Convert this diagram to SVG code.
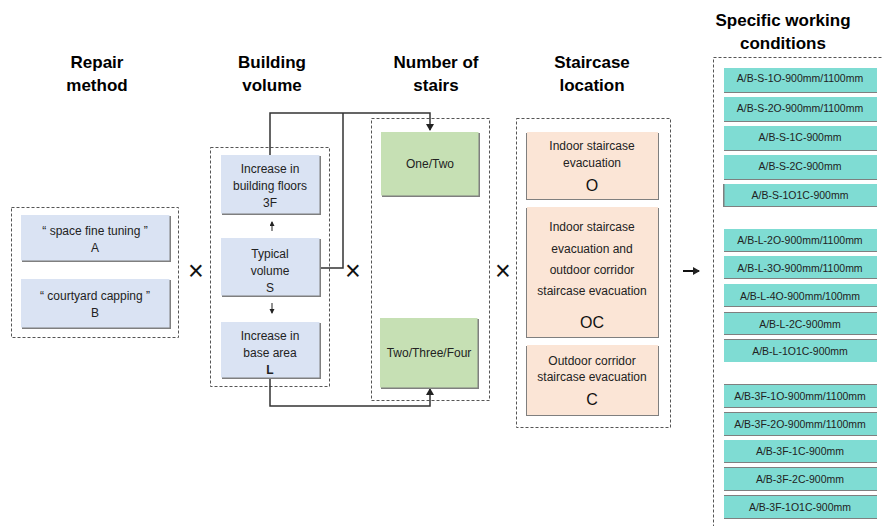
<svg xmlns="http://www.w3.org/2000/svg" width="883" height="526" viewBox="0 0 883 526">
  <style>
    .hd { font-family: "Liberation Sans", Arial, sans-serif; font-weight: bold; font-size: 17px; fill: #000; text-anchor: middle; }
    .t { font-family: "Liberation Sans", Arial, sans-serif; font-size: 12px; fill: #222; text-anchor: middle; }
    .tc { font-family: "Liberation Sans", Arial, sans-serif; font-size: 10.5px; fill: #222; text-anchor: middle; }
    .big { font-family: "Liberation Sans", Arial, sans-serif; font-size: 16px; fill: #111; text-anchor: middle; }
    .frame { fill: none; stroke: #555; stroke-width: 1; stroke-dasharray: 3 2; }
    .blue { fill: #dae3f3; }
    .green { fill: #c6e0b4; }
    .peach { fill: #fbe5d6; }
    .cyan { fill: #7fdcd3; }
    .sh { fill: #7f7f7f; }
    .conn { fill: none; stroke: #333; stroke-width: 1.5; }
    .x { font-family: "Liberation Sans", Arial, sans-serif; font-size: 27px; fill: #111; text-anchor: middle; }
  </style>
  <defs>
    <marker id="ah" markerWidth="8" markerHeight="8" refX="6" refY="4" orient="auto" markerUnits="userSpaceOnUse">
      <path d="M0,0 L7,4 L0,8 Z" fill="#222"/>
    </marker>
    <marker id="ahs" markerWidth="6" markerHeight="6" refX="4" refY="2.5" orient="auto" markerUnits="userSpaceOnUse">
      <path d="M0,0 L5,2.5 L0,5 Z" fill="#222"/>
    </marker>
  </defs>

  <rect width="883" height="526" fill="#fff"/>

  <!-- column headings -->
  <g id="headings">
    <text class="hd" x="97" y="68">Repair</text>
    <text class="hd" x="97" y="91">method</text>
    <text class="hd" x="272" y="68">Building</text>
    <text class="hd" x="272" y="91">volume</text>
    <text class="hd" x="436" y="68">Number of</text>
    <text class="hd" x="436" y="91">stairs</text>
    <text class="hd" x="592" y="68">Staircase</text>
    <text class="hd" x="592" y="91">location</text>
    <text class="hd" x="783" y="26">Specific working</text>
    <text class="hd" x="783" y="49">conditions</text>
  </g>

  <!-- group frames -->
  <g id="frames">
    <rect class="frame" x="11.5" y="207.5" width="167" height="130"/>
    <rect class="frame" x="210.5" y="147.5" width="119" height="239"/>
    <rect class="frame" x="371.5" y="118.5" width="118" height="282"/>
    <rect class="frame" x="516.5" y="118.5" width="154" height="309"/>
    <rect class="frame" x="713.5" y="57.5" width="200" height="500"/>
  </g>

  <!-- connectors -->
  <g id="connectors">
    <polyline class="conn" points="270,155 270,113 430,113 430,130" marker-end="url(#ah)"/>
    <polyline class="conn" points="320,268 343,268 343,113"/>
    <polyline class="conn" points="270,378 270,406 430,406 430,389" marker-end="url(#ah)"/>
    <line x1="272" y1="231" x2="272" y2="222" stroke="#222" stroke-width="1" marker-end="url(#ahs)"/>
    <line x1="272" y1="303" x2="272" y2="313" stroke="#222" stroke-width="1" marker-end="url(#ahs)"/>
    <line x1="683" y1="271" x2="699" y2="271" stroke="#111" stroke-width="2" marker-end="url(#ah)"/>
  </g>

  <!-- multiplication signs -->
  <g id="operators">
    <text class="x" x="196" y="280">×</text>
    <text class="x" x="353" y="280">×</text>
    <text class="x" x="503" y="280">×</text>
  </g>

  <!-- repair method -->
  <g id="node-A">
    <rect class="sh" x="22" y="216" width="149" height="46"/>
    <rect class="blue" x="21" y="215" width="148.5" height="45.5"/>
    <text class="t" x="95" y="235">“  space fine tuning  ”</text>
    <text class="t" x="95" y="252">A</text>
  </g>
  <g id="node-B">
    <rect class="sh" x="22" y="280" width="149" height="49"/>
    <rect class="blue" x="21" y="279" width="148.5" height="48.5"/>
    <text class="t" x="95" y="300">“  courtyard capping  ”</text>
    <text class="t" x="95" y="317">B</text>
  </g>

  <!-- building volume -->
  <g id="node-3F">
    <rect class="sh" x="222" y="156" width="99" height="59"/>
    <rect class="blue" x="221" y="155" width="98.5" height="58.5"/>
    <text class="t" x="270" y="173">Increase in</text>
    <text class="t" x="270" y="190">building floors</text>
    <text class="t" x="270" y="207">3F</text>
  </g>
  <g id="node-S">
    <rect class="sh" x="222" y="239" width="99" height="58"/>
    <rect class="blue" x="221" y="238" width="98.5" height="57.5"/>
    <text class="t" x="270" y="258" font-size="12.5">Typical</text>
    <text class="t" x="270" y="275" font-size="12.5">volume</text>
    <text class="t" x="270" y="292" font-size="12.5">S</text>
  </g>
  <g id="node-L">
    <rect class="sh" x="222" y="323" width="99" height="56"/>
    <rect class="blue" x="221" y="322" width="98.5" height="55.5"/>
    <text class="t" x="270" y="340" font-size="12.5">Increase in</text>
    <text class="t" x="270" y="357" font-size="12.5">base area</text>
    <text class="t" x="270" y="374" font-size="12.5" font-weight="bold">L</text>
  </g>

  <!-- number of stairs -->
  <g id="node-one-two">
    <rect class="sh" x="382" y="133" width="98" height="64"/>
    <rect class="green" x="381" y="132" width="97.5" height="63.5"/>
    <text class="t" x="430" y="168">One/Two</text>
  </g>
  <g id="node-two-three-four">
    <rect class="sh" x="381" y="319" width="98" height="70"/>
    <rect class="green" x="380" y="318" width="97.5" height="69.5"/>
    <text class="t" x="429" y="357">Two/Three/Four</text>
  </g>

  <!-- staircase location -->
  <g id="node-O">
    <rect class="sh" x="526" y="133" width="133" height="67"/>
    <rect class="peach" x="527" y="132" width="131" height="67"/>
    <text class="t" x="592" y="150" font-size="12.5">Indoor staircase</text>
    <text class="t" x="592" y="167" font-size="12.5">evacuation</text>
    <text class="big" x="592" y="191">O</text>
  </g>
  <g id="node-OC">
    <rect class="sh" x="526" y="208" width="133" height="130"/>
    <rect class="peach" x="527" y="207" width="131" height="130"/>
    <text class="t" x="592" y="231">Indoor staircase</text>
    <text class="t" x="592" y="253">evacuation and</text>
    <text class="t" x="592" y="274">outdoor corridor</text>
    <text class="t" x="592" y="295">staircase evacuation</text>
    <text class="big" x="592" y="328">OC</text>
  </g>
  <g id="node-C">
    <rect class="sh" x="526" y="346" width="133" height="70"/>
    <rect class="peach" x="527" y="345" width="131" height="70"/>
    <text class="t" x="592" y="365">Outdoor corridor</text>
    <text class="t" x="592" y="381">staircase evacuation</text>
    <text class="big" x="592" y="405">C</text>
  </g>

  <!-- specific working conditions -->
  <g id="cond-S-1O">
    <rect class="sh" x="724" y="68" width="153" height="25"/>
    <rect class="cyan" x="724" y="68" width="153" height="24"/>
    <text class="tc" x="800" y="82">A/B-S-1O-900mm/1100mm</text>
  </g>
  <g id="cond-S-2O">
    <rect class="sh" x="724" y="97" width="153" height="25"/>
    <rect class="cyan" x="724" y="97" width="153" height="24"/>
    <text class="tc" x="800" y="112">A/B-S-2O-900mm/1100mm</text>
  </g>
  <g id="cond-S-1C">
    <rect class="sh" x="724" y="126" width="153" height="25"/>
    <rect class="cyan" x="724" y="126" width="153" height="24"/>
    <text class="tc" x="800" y="141">A/B-S-1C-900mm</text>
  </g>
  <g id="cond-S-2C">
    <rect class="sh" x="724" y="155" width="153" height="25"/>
    <rect class="cyan" x="724" y="155" width="153" height="24"/>
    <text class="tc" x="800" y="170">A/B-S-2C-900mm</text>
  </g>
  <g id="cond-S-1O1C">
    <rect class="sh" x="723" y="184" width="154" height="23"/>
    <rect class="cyan" x="724.5" y="184" width="152.5" height="22"/>
    <text class="tc" x="800" y="199">A/B-S-1O1C-900mm</text>
  </g>

  <g id="cond-L-2O">
    <rect class="sh" x="724" y="229" width="153" height="23"/>
    <rect class="cyan" x="724" y="229" width="153" height="22"/>
    <text class="tc" x="800" y="244">A/B-L-2O-900mm/1100mm</text>
  </g>
  <g id="cond-L-3O">
    <rect class="sh" x="724" y="256" width="153" height="23"/>
    <rect class="cyan" x="724" y="256" width="153" height="22"/>
    <text class="tc" x="800" y="272">A/B-L-3O-900mm/1100mm</text>
  </g>
  <g id="cond-L-4O">
    <rect class="sh" x="724" y="284" width="153" height="23"/>
    <rect class="cyan" x="724" y="284" width="153" height="22"/>
    <text class="tc" x="800" y="300">A/B-L-4O-900mm/100mm</text>
  </g>
  <g id="cond-L-2C">
    <rect class="sh" x="724" y="312" width="153" height="23"/>
    <rect class="cyan" x="724" y="313" width="153" height="21"/>
    <text class="tc" x="800" y="328">A/B-L-2C-900mm</text>
  </g>
  <g id="cond-L-1O1C">
    <rect class="sh" x="724" y="339" width="153" height="23"/>
    <rect class="cyan" x="724" y="340" width="153" height="22"/>
    <text class="tc" x="800" y="355">A/B-L-1O1C-900mm</text>
  </g>

  <g id="cond-3F-1O">
    <rect class="sh" x="724" y="384" width="153" height="24"/>
    <rect class="cyan" x="724" y="385" width="153" height="22"/>
    <text class="tc" x="800" y="400">A/B-3F-1O-900mm/1100mm</text>
  </g>
  <g id="cond-3F-2O">
    <rect class="sh" x="724" y="412" width="153" height="24"/>
    <rect class="cyan" x="724" y="413" width="153" height="22"/>
    <text class="tc" x="800" y="428">A/B-3F-2O-900mm/1100mm</text>
  </g>
  <g id="cond-3F-1C">
    <rect class="sh" x="724" y="440" width="153" height="23"/>
    <rect class="cyan" x="724" y="440" width="153" height="22"/>
    <text class="tc" x="800" y="455">A/B-3F-1C-900mm</text>
  </g>
  <g id="cond-3F-2C">
    <rect class="sh" x="724" y="467" width="153" height="24"/>
    <rect class="cyan" x="724" y="468" width="153" height="22"/>
    <text class="tc" x="800" y="483">A/B-3F-2C-900mm</text>
  </g>
  <g id="cond-3F-1O1C">
    <rect class="sh" x="724" y="495" width="153" height="24"/>
    <rect class="cyan" x="724" y="496" width="153" height="22"/>
    <text class="tc" x="800" y="511">A/B-3F-1O1C-900mm</text>
  </g>
</svg>
